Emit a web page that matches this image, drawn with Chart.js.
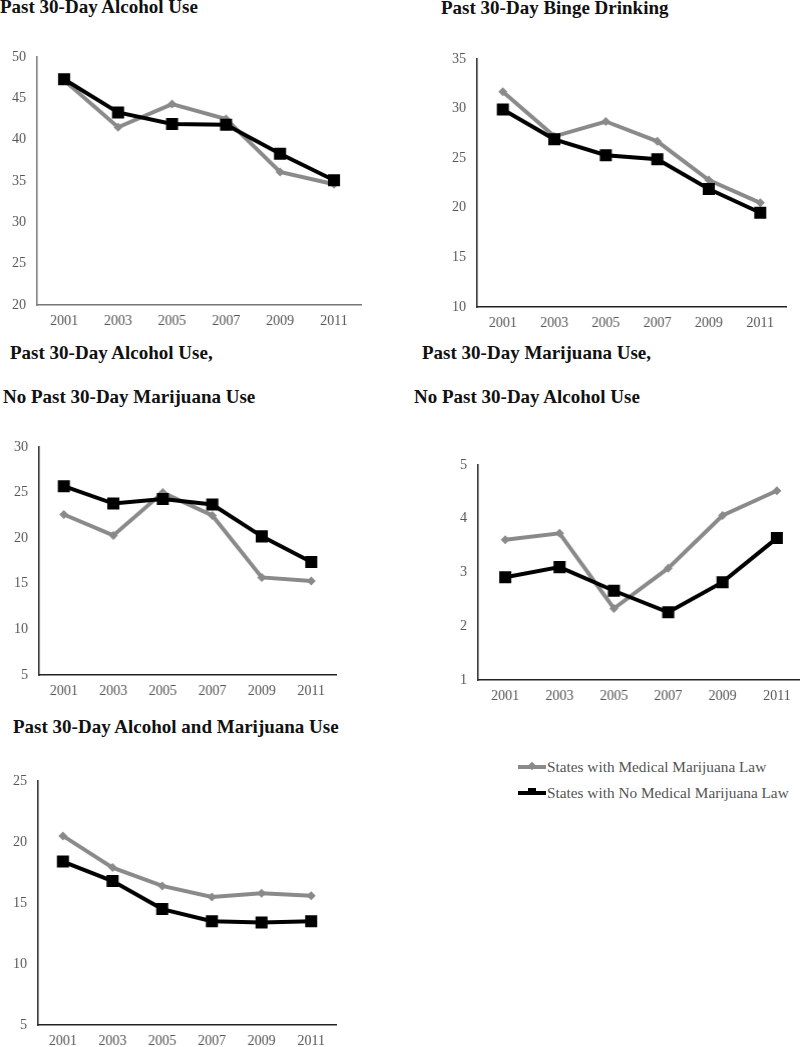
<!DOCTYPE html>
<html>
<head>
<meta charset="utf-8">
<script src="https://cdn.jsdelivr.net/npm/chart.js@4/dist/chart.umd.min.js"></script>
<style>
  html, body { margin: 0; padding: 0; background: #fff; overflow: hidden; }
  body { width: 800px; height: 1047px; position: relative; font-family: "Liberation Serif", "Times New Roman", serif; }
  .title { position: absolute; font-size: 19px; line-height: 19px; font-weight: bold; color: #111; white-space: nowrap; }
  .box { position: absolute; }
  .legend { position: absolute; left: 518px; top: 757px; font-size: 15.3px; color: #555; }
  .legend .row { position: relative; height: 26px; line-height: 20px; padding-left: 29px; white-space: nowrap; }
  .legend .ln { position: absolute; left: 0; top: 8px; width: 28px; height: 4px; }
  .legend .mk { position: absolute; }
</style>
</head>
<body>

<div class="title" style="left:0px;top:-3px">Past 30-Day Alcohol Use</div>
<div class="title" style="left:441px;top:-2px">Past 30-Day Binge Drinking</div>
<div class="title" style="left:10px;top:343px">Past 30-Day Alcohol Use,</div>
<div class="title" style="left:3px;top:387px">No Past 30-Day Marijuana Use</div>
<div class="title" style="left:422px;top:343px">Past 30-Day Marijuana Use,</div>
<div class="title" style="left:414px;top:387px">No Past 30-Day Alcohol Use</div>
<div class="title" style="left:13px;top:717px">Past 30-Day Alcohol and Marijuana Use</div>

<div class="legend">
  <div class="row">
    <div class="ln" style="background:#8a8a8a"></div>
    <div class="mk" style="left:11px;top:6px;width:6px;height:6px;background:#8a8a8a;transform:rotate(45deg)"></div>
    States with Medical Marijuana Law
  </div>
  <div class="row">
    <div class="ln" style="background:#000"></div>
    <div class="mk" style="left:10px;top:5px;width:8px;height:6px;background:#000"></div>
    States with No Medical Marijuana Law
  </div>
</div>

<script>
// categories
const years = ['2001', '2003', '2005', '2007', '2009', '2011'];

// series: states with medical marijuana law (gray) / without (black)
const alcoholMML    = [47.2, 41.5, 44.3, 42.5, 36.1, 34.6];
const alcoholNoMML  = [47.3, 43.3, 41.9, 41.8, 38.3, 35.1];
const bingeMML      = [31.7, 27.2, 28.7, 26.7, 22.8, 20.5];
const bingeNoMML    = [29.9, 26.9, 25.3, 24.9, 21.9, 19.5];
const alcNoMjMML    = [22.6, 20.3, 25.0, 22.5, 15.7, 15.3];
const alcNoMjNoMML  = [25.7, 23.8, 24.3, 23.7, 20.2, 17.4];
const mjNoAlcMML    = [3.61, 3.73, 2.33, 3.08, 4.06, 4.52];
const mjNoAlcNoMML  = [2.91, 3.10, 2.66, 2.26, 2.82, 3.64];
const bothMML       = [20.5, 17.9, 16.4, 15.5, 15.8, 15.6];
const bothNoMML     = [18.4, 16.8, 14.5, 13.5, 13.4, 13.5];

// y tick ranges [min, max, step]
const alcoholTicks = [20, 50, 5];
const bingeTicks   = [10, 35, 5];
const alcNoMjTicks = [5, 30, 5];
const mjNoAlcTicks = [1, 5, 1];
const bothTicks    = [5, 25, 5];

const seriesNames = ['States with Medical Marijuana Law', 'States with No Medical Marijuana Law'];

const GRAY = '#8a8a8a';
const FONT = '"Liberation Serif", "Times New Roman", serif';
const Y_W = 36, X_H = 28, PAD_TOP = 10;

// axisX, areaTop, axisY, areaRight in page pixels
function makeChart(mml, noMml, ticks, axisX, areaTop, axisY, areaRight, axisColor) {
  const left = axisX - Y_W;
  const top = areaTop - PAD_TOP;
  const w = areaRight - left;
  const h = axisY + X_H - top;
  const box = document.createElement('div');
  box.className = 'box';
  box.style.cssText = `left:${left}px;top:${top}px;width:${w}px;height:${h}px`;
  const cv = document.createElement('canvas');
  box.appendChild(cv);
  document.body.appendChild(box);

  const chart = new Chart(cv.getContext('2d'), {
    type: 'line',
    data: {
      labels: years,
      datasets: [
        {
          label: seriesNames[0], data: mml, order: 1,
          borderColor: GRAY, backgroundColor: GRAY, borderWidth: 4,
          pointStyle: 'rectRot', pointRadius: 4.5, pointBorderWidth: 0,
          tension: 0
        },
        {
          label: seriesNames[1], data: noMml, order: 0,
          borderColor: '#000', backgroundColor: '#000', borderWidth: 4,
          pointStyle: 'rect', pointRadius: 8.5, pointBorderWidth: 0,
          tension: 0
        }
      ]
    },
    options: {
      responsive: true,
      maintainAspectRatio: false,
      animation: false,
      layout: { padding: { top: PAD_TOP, right: 0, bottom: 0, left: 0 } },
      plugins: { legend: { display: false }, tooltip: { enabled: false } },
      scales: {
        x: {
          type: 'category',
          offset: true,
          grid: { drawOnChartArea: false, drawTicks: false },
          border: { color: axisColor, width: 1.5 },
          ticks: { color: '#555', font: { family: FONT, size: 14 }, padding: 8, maxRotation: 0 },
          afterFit: s => { s.height = X_H; s.paddingLeft = 0; s.paddingRight = 0; }
        },
        y: {
          min: ticks[0], max: ticks[1],
          grid: { drawOnChartArea: false, drawTicks: false },
          border: { color: axisColor, width: 1.5 },
          ticks: { stepSize: ticks[2], color: '#555', font: { family: FONT, size: 14 }, padding: 11 },
          afterFit: s => { s.width = Y_W; s.paddingTop = 0; s.paddingBottom = 0; }
        }
      }
    }
  });

  // stretch the box so the plot area ends where the reference's axis ends
  const dx = (areaRight - left) - chart.chartArea.right;
  const dy = (axisY - top) - chart.chartArea.bottom;
  if (Math.abs(dx) > 0.5 || Math.abs(dy) > 0.5) {
    box.style.width = (w + dx) + 'px';
    box.style.height = (h + dy) + 'px';
    chart.resize();
  }
}

makeChart(alcoholMML, alcoholNoMML, alcoholTicks, 37, 57, 305, 360, '#777');
makeChart(bingeMML, bingeNoMML, bingeTicks, 477, 59, 307, 785, '#222');
makeChart(alcNoMjMML, alcNoMjNoMML, alcNoMjTicks, 39, 447, 675, 335, '#222');
makeChart(mjNoAlcMML, mjNoAlcNoMML, mjNoAlcTicks, 478, 465, 680, 803, '#222');
makeChart(bothMML, bothNoMML, bothTicks, 38, 781, 1025, 335, '#222');
</script>
</body>
</html>
